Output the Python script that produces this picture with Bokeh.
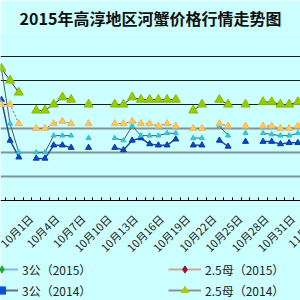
import math
from bokeh.plotting import figure
from bokeh.models import ColumnDataSource, Range1d, FixedTicker, Grid, Legend, LegendItem
from bokeh.core.properties import value
from bokeh.embed import file_html
from bokeh.resources import INLINE

nan = float("nan")

dates = ["9月28日", "9月29日", "9月30日", "10月1日", "10月2日", "10月3日", "10月4日",
         "10月5日", "10月6日", "10月7日", "10月8日", "10月9日", "10月10日", "10月11日",
         "10月12日", "10月13日", "10月14日", "10月15日", "10月16日", "10月17日",
         "10月18日", "10月19日", "10月20日", "10月21日", "10月22日", "10月23日",
         "10月24日", "10月25日", "10月26日", "10月27日", "10月28日", "10月29日",
         "10月30日", "10月31日", "11月1日", "11月2日", "11月3日"]

tick_labels = ["10月1日", "10月4日", "10月7日", "10月10日", "10月13日", "10月16日",
               "10月19日", "10月22日", "10月25日", "10月28日", "10月31日", "11月3日"]

# 3公（2015）
male_2015 = [55, 32, 20, nan, 20, 20, 27, 27, 27, nan, 26, nan, nan, 26, 25, 31, 27, 27,
             27, 28, 28, nan, 26, 26, nan, 31, 27, nan, 28, nan, 28, 27.5, 27, 27, 28, nan, nan]
# 3公（2014）
male_2014 = [42, 25, 18, nan, 17.5, 17.5, 23, 23, 22, nan, 22, nan, nan, 22, 21, 25, 26, 23.5,
             23, 23, 25.5, nan, 23, 23, nan, 25, 22.5, nan, 24.5, nan, 24.5, 24.5, 23.5, 24, 24, nan, nan]
# 2.5母（2015）
female_2015 = [40, 40, 32, nan, 30, 30, 32, 33, 32, nan, 32, nan, nan, 32, 32, 33, 32, 32,
               31, 32, 31, nan, 30, 30, nan, 32, 31, nan, 31, nan, 31, 31, 30, 30, 31, nan, nan]
# 2.5母（2014）
female_2014 = [55, 50, 45, nan, 37.5, 37.5, 40, 43, 42, nan, 40, nan, nan, 40, 40, 43, 42, 42,
               42, 42, 42, nan, 37.5, 40, nan, 42, 40, nan, 40, nan, 41, 41, 40, 40, 41, nan, nan]

series_names = ["3公（2015）", "3公（2014）", "2.5母（2015）", "2.5母（2014）"]

xs = list(range(len(dates)))
src = ColumnDataSource(dict(x=xs, m15=male_2015, m14=male_2014, f15=female_2015, f14=female_2014))

BG = "#CCFFFF"
FONT = "Noto Sans CJK SC"

# value axis 0..70 occupies the upper part; the space below 0 holds labels and legend
p = figure(width=300, height=300, x_range=Range1d(-0.1, 34.3), y_range=Range1d(-41.75, 70),
           output_backend="svg", toolbar_location=None, y_axis_location=None,
           min_border_left=0, min_border_right=0, min_border_top=27, min_border_bottom=0,
           background_fill_color=BG, border_fill_color=BG)
p.outline_line_color = None

p.title.text = "2015年高淳地区河蟹价格行情走势图"
p.title.align = "center"
p.title.text_font = FONT
p.title.text_font_size = "16px"
p.title.text_font_style = "bold"
p.title.text_color = "#111111"
p.title.standoff = 6

# grid
p.xgrid.visible = False
p.ygrid.ticker = FixedTicker(ticks=[10, 20, 30, 70])
p.ygrid.grid_line_color = "#7F9494"
p.ygrid.grid_line_width = 2
dark = Grid(dimension=1, ticker=FixedTicker(ticks=[40, 50, 60]),
            grid_line_color="#1A1A1A", grid_line_width=1)
p.add_layout(dark)

# category axis drawn at value 0: tick marks between categories
bounds = [i - 0.5 for i in range(len(dates) + 1)]
ax = p.xaxis[0]
ax.fixed_location = 0
ax.ticker = FixedTicker(ticks=[], minor_ticks=bounds)
ax.major_tick_line_color = None
ax.major_tick_in = 0
ax.major_tick_out = 0
ax.minor_tick_in = 3
ax.minor_tick_out = 0
ax.minor_tick_line_color = "#000000"
ax.axis_line_color = "#000000"
ax.major_label_text_font_size = "0px"
ax.major_label_standoff = 0

# rotated category labels every third day
label_src = ColumnDataSource(dict(x=[dates.index(t) for t in tick_labels],
                                  y=[0] * len(tick_labels), text=tick_labels))
p.text("x", "y", text="text", source=label_src, angle=math.pi / 4,
       text_align="right", text_baseline="middle", x_offset=3, y_offset=16,
       text_font=value(FONT), text_font_size="11px", text_color="#222222")

# series lines
p.line("x", "m15", source=src, line_color="#4A5A6A", line_width=1)
p.line("x", "m14", source=src, line_color="#2A4A9A", line_width=1.5)
p.line("x", "f15", source=src, line_color="#707070", line_width=1, line_dash="2 2")
p.line("x", "f14", source=src, line_color="#303030", line_width=1)
# markers
p.scatter("x", "m14", source=src, marker="triangle", size=6, fill_color="#0A48C8", line_color="#0A38A0")
p.scatter("x", "m15", source=src, marker="triangle", size=5, fill_color="#33CCDD", line_color="#33BBCC")
p.scatter("x", "f15", source=src, marker="triangle", size=7, fill_color="#FFC860", line_color="#F0B850")
p.scatter("x", "f14", source=src, marker="triangle", size=9, fill_color="#99CC00", line_color="#88B800")

# legend (styled as in the reference); sample glyphs sit outside the visible range
def legend_renderers(lc, marker, mc):
    r1 = p.line([-5, -4], [-5, -5], line_color=lc, line_width=2)
    r2 = p.scatter([-5], [-5], marker=marker, size=6, fill_color=mc, line_color=mc)
    return [r1, r2]

items = [
    LegendItem(label=series_names[0], renderers=legend_renderers("#8AB8D8", "diamond", "#22AA33")),
    LegendItem(label=series_names[1], renderers=legend_renderers("#6A6A8A", "square", "#1050D0")),
    LegendItem(label=series_names[2], renderers=legend_renderers("#C8A8A0", "diamond", "#A01030")),
    LegendItem(label=series_names[3], renderers=legend_renderers("#909090", "triangle", "#AACC00")),
]
legend = Legend(items=items, location=(-15, 1), orientation="vertical", ncols=2,
                glyph_width=33, glyph_height=18, label_height=18, label_width=143,
                label_standoff=4, spacing=3, padding=0, margin=0,
                background_fill_alpha=0, border_line_color=None,
                label_text_font=FONT, label_text_font_size="12px", label_text_color="#222222")
p.add_layout(legend, "center")

open("out.html", "w").write(file_html(p, INLINE))
